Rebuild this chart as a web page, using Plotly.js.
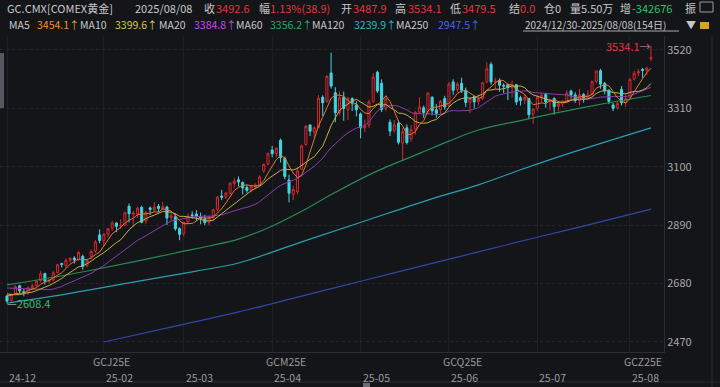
<!DOCTYPE html>
<html><head><meta charset="utf-8">
<script src="https://cdn.plot.ly/plotly-3.0.1.min.js"></script>
<style>html,body{margin:0;padding:0;background:#131519;overflow:hidden}#chart{width:720px;height:387px}</style>
</head><body><div id="chart"></div>
<script>
// ---- categories: trading days ----
const tradingDays = [
  ["2024-12", [30,31]],
  ["2025-01", [2,3,6,7,8,9,10,13,14,15,16,17,21,22,23,24,27,28,29,30,31]],
  ["2025-02", [3,4,5,6,7,10,11,12,13,14,18,19,20,21,24,25,26,27,28]],
  ["2025-03", [3,4,5,6,7,10,11,12,13,14,17,18,19,20,21,24,25,26,27,28,31]],
  ["2025-04", [1,2,3,4,7,8,9,10,11,14,15,16,17,21,22,23,24,25,28,29,30]],
  ["2025-05", [1,2,5,6,7,8,9,12,13,14,15,16,19,20,21,22,23,27,28,29,30]],
  ["2025-06", [2,3,4,5,6,9,10,11,12,13,16,17,18,19,20,23,24,25,26,27,30]],
  ["2025-07", [1,2,3,7,8,9,10,11,14,15,16,17,18,21,22,23,24,25,28,29,30,31]],
  ["2025-08", [1,4,5,6,7,8]]
];
const monthLabels = ["24-12","25-02","25-03","25-04","25-05","25-06","25-07","25-08"];
const monthLabelDates = ["2024-12-30","2025-02-03","2025-03-03","2025-04-01","2025-05-01","2025-06-02","2025-07-01","2025-08-01"];
const contractLabels = ["GCJ25E","GCM25E","GCQ25E","GCZ25E"];
const contractLabelDates = ["2025-01-29","2025-03-28","2025-05-29","2025-07-30"];

// ---- OHLC ----
const open = [2635.0,2619.0,2643.0,2672.0,2651.0,2647.0,2665.0,2673.0,2690.0,2716.0,2688.0,2693.0,2720.0,2752.0,2745.0,2764.0,2772.0,2766.0,2778.0,2745.0,
2778.0,2797.0,2855.0,2835.0,2858.0,2879.0,2898.0,2886.0,2890.0,2958.0,2929.0,2930.0,2954.0,2905.0,2952.0,2945.0,2958.0,2948.0,2955.0,2918.0,
2920.0,2877.0,2860.0,2902.0,2927.0,2930.0,2920.0,2913.0,2900.0,2918.0,2947.0,2995.0,2991.0,3004.0,3040.0,3053.0,3043.0,3025.0,3016.0,3030.0,
3035.0,3085.0,3110.0,3160.0,3147.0,3195.0,3130.0,3052.0,3000.0,3010.0,3090.0,3180.0,3250.0,3225.0,3242.0,3350.0,3335.0,3437.0,3366.0,3295.0,
3350.0,3305.0,3345.0,3322.0,3290.0,3240.0,3250.0,3335.0,3440.0,3400.0,3310.0,3260.0,3230.0,3256.0,3185.0,3240.0,3200.0,3235.0,3296.0,3312.0,
3297.0,3350.0,3305.0,3305.0,3345.0,3320.0,3405.0,3378.0,3400.0,3375.0,3332.0,3352.0,3335.0,3345.0,3405.0,3468.0,3405.0,3410.0,3392.0,3395.0,
3385.0,3395.0,3348.0,3340.0,3345.0,3290.0,3310.0,3350.0,3360.0,3335.0,3345.0,3318.0,3325.0,3335.0,3372.0,3358.0,3338.0,3360.0,3346.0,3360.0,
3407.0,3445.0,3400.0,3375.0,3322.0,3312.0,3378.0,3330.0,3350.0,3415.0,3437.0,3450.0,3447.0,3487.9];
const high = [2641.0,2645.5,2674.0,2676.0,2660.0,2670.0,2679.0,2692.0,2726.0,2719.0,2697.0,2726.0,2751.0,2755.0,2771.0,2775.0,2778.0,2798.0,2784.0,2768.0,
2802.0,2836.0,2875.0,2862.0,2880.0,2906.0,2900.0,2911.0,2938.0,2968.0,2941.0,2956.0,2960.0,2941.0,2957.0,2973.0,2966.0,2974.0,2960.0,2934.0,
2931.0,2882.0,2903.0,2932.0,2940.0,2944.0,2935.0,2927.0,2925.0,2949.0,2995.0,3017.0,3010.0,3045.0,3060.0,3065.0,3047.0,3035.0,3034.0,3040.0,
3069.0,3112.0,3150.0,3175.0,3170.0,3201.0,3136.0,3071.0,3032.0,3100.0,3180.0,3250.0,3252.0,3245.0,3358.0,3357.0,3430.0,3509.9,3386.0,3370.0,
3370.0,3352.0,3350.0,3335.0,3295.0,3270.0,3340.0,3437.0,3445.0,3414.0,3350.0,3270.0,3268.0,3266.0,3240.0,3252.0,3250.0,3300.0,3350.0,3320.0,
3366.0,3353.0,3325.0,3340.0,3355.0,3405.0,3415.0,3405.0,3420.0,3385.0,3350.0,3356.0,3360.0,3405.0,3476.0,3476.0,3420.0,3418.0,3400.0,3400.0,
3410.0,3397.0,3355.0,3360.0,3347.0,3310.0,3358.0,3365.0,3366.0,3345.0,3350.0,3330.0,3340.0,3375.0,3377.0,3368.0,3380.0,3365.0,3375.0,3410.0,
3445.0,3452.0,3405.0,3378.0,3330.0,3335.0,3390.0,3360.0,3420.0,3445.0,3451.0,3455.0,3460.0,3534.1];
const low = [2608.4,2615.0,2640.0,2646.0,2634.0,2640.0,2656.0,2668.0,2684.0,2677.0,2681.0,2688.0,2717.0,2738.0,2736.0,2755.0,2752.0,2762.0,2730.0,2738.0,
2770.0,2790.0,2825.0,2816.0,2846.0,2870.0,2865.0,2876.0,2888.0,2900.0,2885.0,2916.0,2897.0,2895.0,2926.0,2938.0,2937.0,2945.0,2890.0,2906.0,
2870.0,2836.0,2849.0,2895.0,2913.0,2905.0,2893.0,2890.0,2888.0,2906.0,2940.0,2980.0,2984.0,3002.0,3025.0,3029.0,3000.0,3006.0,3008.0,3019.0,
3030.0,3078.0,3105.0,3134.0,3135.0,3115.0,3055.0,2972.0,2980.0,3000.0,3088.0,3176.0,3210.0,3205.0,3238.0,3283.0,3330.0,3381.0,3260.0,3285.0,
3265.0,3268.0,3300.0,3281.0,3202.0,3225.0,3240.0,3330.0,3365.0,3297.0,3300.0,3210.0,3222.0,3180.0,3123.0,3180.0,3190.0,3215.0,3290.0,3276.0,
3287.0,3285.0,3276.0,3290.0,3305.0,3315.0,3358.0,3368.0,3365.0,3315.0,3292.0,3310.0,3320.0,3340.0,3400.0,3395.0,3380.0,3370.0,3365.0,3340.0,
3348.0,3322.0,3320.0,3325.0,3271.0,3255.0,3300.0,3332.0,3312.0,3302.0,3287.0,3300.0,3315.0,3330.0,3345.0,3330.0,3320.0,3330.0,3340.0,3355.0,
3400.0,3380.0,3360.0,3325.0,3300.0,3305.0,3320.0,3315.0,3340.0,3410.0,3425.0,3420.0,3430.0,3479.5];
const close = [2617.2,2641.0,2668.8,2653.6,2646.8,2664.9,2672.0,2688.5,2715.0,2689.7,2691.4,2718.5,2747.5,2748.7,2763.6,2770.5,2765.0,2791.5,2742.0,2763.3,
2795.0,2829.7,2835.0,2857.1,2877.3,2897.5,2885.7,2889.2,2934.7,2931.0,2933.0,2951.1,2900.3,2935.9,2946.0,2955.0,2950.0,2956.0,2916.0,2924.0,
2877.0,2857.0,2900.0,2922.0,2924.0,2922.0,2914.0,2899.0,2917.0,2945.0,2991.0,2990.0,3005.0,3041.0,3048.0,3045.0,3024.0,3015.0,3030.0,3035.0,
3063.0,3108.0,3148.0,3147.0,3166.0,3133.0,3065.0,3005.0,3018.0,3085.0,3175.0,3245.0,3228.0,3240.0,3346.0,3330.0,3425.0,3390.0,3294.0,3348.0,
3310.0,3345.0,3330.0,3305.0,3240.0,3247.0,3333.0,3422.0,3372.0,3306.0,3344.0,3228.0,3250.0,3188.0,3226.0,3187.0,3233.0,3296.0,3315.0,3295.0,
3365.0,3301.0,3292.0,3335.0,3315.0,3397.0,3375.0,3397.0,3375.0,3331.0,3345.0,3333.0,3343.0,3402.0,3452.0,3405.0,3407.0,3393.0,3390.0,3385.0,
3394.0,3333.0,3338.0,3349.0,3287.0,3307.0,3349.0,3357.0,3333.0,3342.0,3316.0,3325.0,3336.0,3365.0,3358.0,3338.0,3359.0,3346.0,3358.0,3406.0,
3444.0,3397.0,3373.0,3335.0,3310.0,3327.0,3330.0,3345.0,3413.5,3436.3,3441.6,3446.3,3453.7,3492.6];
// closes of the 19 sessions before the window (for MA5/10/20)
const priorCloses = [2657.6,2665.9,2671.2,2654.1,2656.9,2688.5,2718.4,2752.0,2707.9,2675.8,2673.9,2669.3,2647.7,2612.0,2645.8,2637.3,2635.4,2657.3,2636.9];

// long moving averages (session index -> value)
const ma60Idx = [0,10,20,30,40,48,55,62,70,78,87,98,105,112,122,132,143,153];
const ma60Val = [2675,2700,2728,2758,2790,2815,2840,2880,2940,3008,3078,3148,3192,3232,3266,3298,3330,3356.2];
const ma120Idx = [0,15,30,45,55,70,85,100,112,122,135,153];
const ma120Val = [2610,2645,2685,2725,2754,2830,2905,2980,3035,3089,3155,3239.9];
const ma250Idx = [23,40,55,70,85,100,112,125,140,153];
const ma250Val = [2470,2527,2578,2635,2692,2749,2794,2843,2898,2947.5];

const yTicks = [2470,2680,2890,3100,3310,3520];

// ---- build ----
const dates = [];
tradingDays.forEach(([m, ds]) => ds.forEach(d => dates.push(m + "-" + String(d).padStart(2,"0"))));
const allC = priorCloses.concat(close);
function sma(n){ return close.map((_, i) => { const e = i + priorCloses.length; let s = 0; for (let k = e - n + 1; k <= e; k++) s += allC[k]; return s / n; }); }
const BG = "#131519";
const PW = 664, PT = 36, PB = 352, PH = PB - PT;
const px = x => x / PW, py = y => (PB - y) / PH;
const FONT = "Noto Sans CJK SC, Noto Sans, sans-serif";

const traces = [
  {type:"candlestick", x:dates, open, high, low, close, whiskerwidth:0, hoverinfo:"skip", showlegend:false,
   increasing:{line:{color:"#d9262d", width:1}, fillcolor:BG},
   decreasing:{line:{color:"#3fd6e4", width:1}, fillcolor:"#3fd6e4"}},
  {type:"scatter", mode:"lines", x:ma250Idx.map(i=>dates[i]), y:ma250Val, line:{color:"#3346a8", width:1.2, shape:"spline", smoothing:1}, hoverinfo:"skip", showlegend:false},
  {type:"scatter", mode:"lines", x:ma120Idx.map(i=>dates[i]), y:ma120Val, line:{color:"#2a9fae", width:1.2, shape:"spline", smoothing:1}, hoverinfo:"skip", showlegend:false},
  {type:"scatter", mode:"lines", x:ma60Idx.map(i=>dates[i]), y:ma60Val, line:{color:"#2a8a52", width:1.2, shape:"spline", smoothing:1}, hoverinfo:"skip", showlegend:false},
  {type:"scatter", mode:"lines", x:dates, y:sma(20), line:{color:"#8a3dab", width:1}, hoverinfo:"skip", showlegend:false},
  {type:"scatter", mode:"lines", x:dates, y:sma(10), line:{color:"#c9b04c", width:1}, hoverinfo:"skip", showlegend:false},
  {type:"scatter", mode:"lines", x:dates, y:sma(5), line:{color:"#e07b2a", width:1}, hoverinfo:"skip", showlegend:false}
];

const GRAY = "#c8c8c8", RED = "#e8343c", GREEN = "#2ec46a";
function lab(x, y, text, color, size){ return {xref:"paper", yref:"paper", x:px(x), y:py(y), xanchor:"left", yanchor:"middle", showarrow:false, text, font:{family:FONT, size:size||11, color}}; }
const R2 = 10.5;
const ann = [
  lab(5,8,"GC.CMX[COMEX黄金]",GRAY), lab(133,8,"2025/08/08",GRAY),
  lab(202,8,"收",GRAY), lab(214,8,"3492.6",RED),
  lab(257,8,"幅",GRAY), lab(268,8,"1.13%(38.9)",RED),
  lab(339,8,"开",GRAY), lab(351,8,"3487.9",RED),
  lab(393,8,"高",GRAY), lab(406,8,"3534.1",RED),
  lab(448,8,"低",GRAY), lab(460,8,"3479.5",RED),
  lab(507,8,"结",GRAY), lab(518,8,"0.0",RED),
  lab(542,8,"仓0",GRAY), lab(568,8,"量5.50万",GRAY),
  lab(618,8,"增",GRAY), lab(630,8,"-342676",GREEN), lab(683,8,"振",GRAY),
  lab(7,24,"MA5",GRAY,R2), lab(35,24,"3454.1↑","#f0922c",R2),
  lab(78,24,"MA10",GRAY,R2), lab(113,24,"3399.6↑","#d6c84a",R2),
  lab(157,24,"MA20",GRAY,R2), lab(192,24,"3384.8↑","#c04fe0",R2),
  lab(234,24,"MA60",GRAY,R2), lab(268,24,"3356.2↑","#2fa864",R2),
  lab(310,24,"MA120",GRAY,R2), lab(352,24,"3239.9↑","#2fb4c4",R2),
  lab(394,24,"MA250",GRAY,R2), lab(436,24,"2947.5↑","#4a66e6",R2),
  lab(523,24,"2024/12/30-2025/08/08(154日)",GRAY,10), lab(684,24,"▼",GRAY,10),
  {x:dates[153], y:3534.1, xref:"x", yref:"y", xanchor:"right", yanchor:"middle", showarrow:false, xshift:2,
   text:'<span style="color:#e8343c">3534.1</span><span style="color:#b07078">→</span>', font:{family:FONT, size:11}},
  {x:dates[0], y:2608.4, xref:"x", yref:"y", xanchor:"left", yanchor:"middle", showarrow:false, xshift:-2,
   text:'<span style="color:#9aa0a6">—</span><span style="color:#2ec46a">2608.4</span>', font:{family:FONT, size:11}}
];
monthLabels.forEach((t, k) => ann.push({x:dates.indexOf(monthLabelDates[k]), y:py(377), xref:"x", yref:"paper", xanchor:"left", yanchor:"middle", showarrow:false, text:t, font:{family:FONT, size:10.5, color:"#9a9a9a"}}));
contractLabels.forEach((t, k) => ann.push({x:dates.indexOf(contractLabelDates[k]), y:py(361), xref:"x", yref:"paper", xanchor:"left", yanchor:"middle", showarrow:false, text:t, font:{family:FONT, size:10.5, color:"#9a9a9a"}}));

const shapes = [
  {type:"line", xref:"paper", yref:"paper", x0:px(523), x1:px(679), y0:py(31), y1:py(31), line:{color:"#aaaaaa", width:1}},
  {type:"rect", xref:"paper", yref:"paper", x0:px(700), x1:px(709), y0:py(22), y1:py(29), fillcolor:"#d4a520", line:{width:0}},
  {type:"rect", xref:"paper", yref:"paper", x0:px(700), x1:px(713), y0:py(2), y1:py(12), fillcolor:"rgba(0,0,0,0)", line:{color:"#9a9a9a", width:1}},
  {type:"rect", xref:"paper", yref:"paper", x0:0, x1:px(4), y0:py(53), y1:py(108), fillcolor:"#55585e", line:{width:0}},
  {type:"line", xref:"paper", yref:"paper", x0:0, x1:px(720), y0:py(382), y1:py(382), line:{color:"#2a2d33", width:1}},
  {type:"line", xref:"paper", yref:"paper", x0:px(712), x1:px(712), y0:py(36), y1:py(387), line:{color:"#2a2d33", width:1}},
  {type:"rect", xref:"paper", yref:"paper", x0:px(363), x1:px(370), y0:py(383), y1:py(387), fillcolor:"#6a6d73", line:{width:0}}
];

const layout = {
  width:720, height:387, paper_bgcolor:BG, plot_bgcolor:BG,
  margin:{l:0, r:720-PW, t:PT, b:387-PB, autoexpand:false},
  showlegend:false, hovermode:false, dragmode:false,
  xaxis:{type:"category", range:[-1.663, 156.09], tickvals:monthLabelDates, showticklabels:false, ticks:"",
         showgrid:true, gridcolor:"#1c1f23", showline:true, linecolor:"#2a2d33", zeroline:false, rangeslider:{visible:false}, fixedrange:true},
  yaxis:{side:"right", range:[2434, 3570], tickvals:yTicks, ticktext:yTicks.map(String), ticks:"",
         tickfont:{family:FONT, size:11, color:"#a8a8a8"}, showgrid:true, gridcolor:"#23262b", griddash:"dot",
         showline:true, linecolor:"#2a2d33", zeroline:false, fixedrange:true},
  annotations:ann, shapes, boxgap:0.3
};
Plotly.newPlot("chart", traces, layout, {staticPlot:true, displayModeBar:false});
</script></body></html>
